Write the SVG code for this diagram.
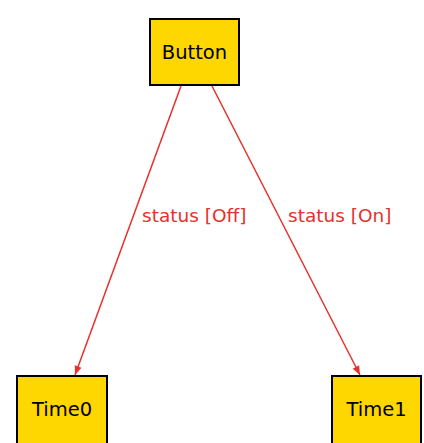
<svg xmlns="http://www.w3.org/2000/svg" width="424" height="443" viewBox="0 0 424 443">
<style>
.node rect{fill:#FFD700;stroke:#000;stroke-width:2}
.node text{font-family:"DejaVu Sans","Liberation Sans",sans-serif;font-size:19.5px;fill:#000;text-anchor:middle}
.edge{stroke:#E8302C;stroke-width:1.5;fill:none}
.lbl{font-family:"DejaVu Sans","Liberation Sans",sans-serif;font-size:18.5px;fill:#E8302C}
</style>
<defs>
<marker id="arr" viewBox="0 0 10 10" refX="10" refY="5" markerWidth="15" markerHeight="9" markerUnits="userSpaceOnUse" orient="auto">
<path d="M0,1 L10,5 L0,9 Z" fill="#E8302C"/>
</marker>
</defs>
<rect width="424" height="443" fill="#fff"/>
<g id="connectors">
<line class="edge" x1="181" y1="86" x2="75" y2="375" marker-end="url(#arr)"/>
<line class="edge" x1="212" y1="86" x2="360" y2="375" marker-end="url(#arr)"/>
<text class="lbl" x="142" y="222">status [Off]</text>
<text class="lbl" x="288" y="222">status [On]</text>
</g>
<g id="Button" class="node">
<rect x="150" y="19" width="89" height="66"/>
<text x="194.5" y="59">Button</text>
</g>
<g id="Time0" class="node">
<rect x="17" y="376" width="90" height="70"/>
<text x="62" y="416">Time0</text>
</g>
<g id="Time1" class="node">
<rect x="332" y="376" width="89" height="70"/>
<text x="376.5" y="416">Time1</text>
</g>
</svg>
